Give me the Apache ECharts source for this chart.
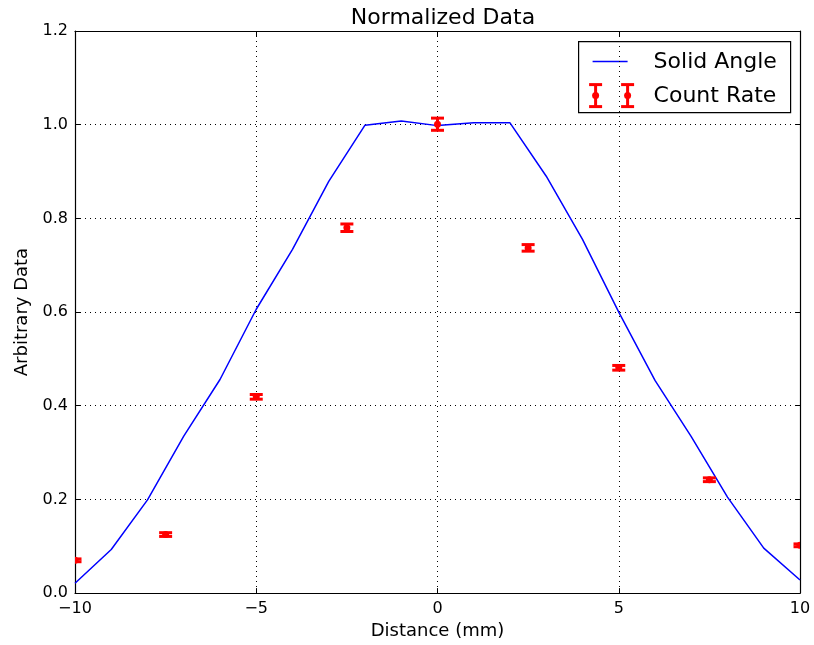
<!DOCTYPE html>
<html>
<head>
<meta charset="utf-8">
<script src="https://cdn.jsdelivr.net/npm/echarts@6/dist/echarts.min.js"></script>
<style>
html, body { margin: 0; padding: 0; background: #fff; }
#main { width: 814px; height: 645px; }
</style>
</head>
<body>
<div id="main"></div>
<script>
// solid angle curve
var angleX = [-10, -9, -8, -7, -6, -5, -4, -3, -2, -1, 0, 1, 2, 3, 4, 5, 6, 7, 8, 9, 10];
var angleY = [0.021, 0.093, 0.199, 0.335, 0.456, 0.606, 0.734, 0.879, 0.999, 1.008, 0.998, 1.004, 1.004, 0.890, 0.755, 0.600, 0.454, 0.334, 0.205, 0.096, 0.028];

// count rate with error
var rateX = [-10, -7.5, -5, -2.5, 0, 2.5, 5, 7.5, 10];
var rateY = [0.070, 0.125, 0.419, 0.780, 1.001, 0.737, 0.481, 0.242, 0.102];
var rateErr = [0.003, 0.004, 0.005, 0.008, 0.013, 0.007, 0.005, 0.004, 0.003];

var FONT = 'DejaVu Sans';

function buildLine(){
	var d = [];
	for (var i = 0; i < angleX.length; i++) d.push([angleX[i], angleY[i]]);
	return d;
}

function buildRate(){
	var d = [];
	for (var i = 0; i < rateX.length; i++) d.push([rateX[i], rateY[i], rateErr[i]]);
	return d;
}

function fmtMinus(v){
	return v < 0 ? '\u2212' + Math.abs(v) : '' + v;
}

/**
 * 误差棒绘制
 */
function renderErr(params, api){
	var x = api.value(0), y = api.value(1), e = api.value(2);
	var top = api.coord([x, y + e]);
	var bot = api.coord([x, y - e]);
	var mid = api.coord([x, y]);
	var hw = 6.5;
	var st = { stroke: '#ff0000', lineWidth: 3 };
	return {
		type: 'group',
		children: [
			{ type: 'line', shape: { x1: top[0], y1: top[1], x2: bot[0], y2: bot[1] }, style: st },
			{ type: 'line', shape: { x1: top[0] - hw, y1: top[1], x2: top[0] + hw, y2: top[1] }, style: st },
			{ type: 'line', shape: { x1: bot[0] - hw, y1: bot[1], x2: bot[0] + hw, y2: bot[1] }, style: st },
			{ type: 'circle', shape: { cx: mid[0], cy: mid[1], r: 3.5 }, style: { fill: '#ff0000' } }
		]
	};
}

var myChart = echarts.init(document.getElementById('main'));

var axisBase = {
	axisLine: { show: true, onZero: false, lineStyle: { color: '#000', width: 1.2 } },
	axisTick: { show: true, inside: true, length: 5, lineStyle: { color: '#000' } },
	axisLabel: { color: '#000', fontFamily: FONT, fontSize: 16 }
};

var option = {
	animation: false,
	title: {
		text: 'Normalized Data',
		left: 438, top: 2, textAlign: 'center',
		textStyle: { fontFamily: FONT, fontSize: 22, fontWeight: 'normal', color: '#000' }
	},
	grid: { left: 75, right: 14, top: 31, bottom: 50 },
	xAxis: [
		echarts.util.merge({
			type: 'value', min: -10, max: 10, interval: 5,
			name: 'Distance (mm)', nameLocation: 'middle', nameGap: 28,
			nameTextStyle: { fontFamily: FONT, fontSize: 18, color: '#000' },
			axisLabel: { formatter: fmtMinus, margin: 8 },
			splitLine: { show: true, lineStyle: { color: '#000', type: [1, 4], width: 1 } }
		}, axisBase, false),
		echarts.util.merge({
			type: 'value', min: -10, max: 10, interval: 5, position: 'top',
			axisLabel: { show: false }, splitLine: { show: false }
		}, axisBase, false)
	],
	yAxis: [
		echarts.util.merge({
			type: 'value', min: 0, max: 1.2, interval: 0.2,
			name: 'Arbitrary Data', nameLocation: 'middle', nameGap: 44,
			nameTextStyle: { fontFamily: FONT, fontSize: 18, color: '#000' },
			axisLabel: { formatter: function(v){ return v.toFixed(1); }, margin: 7 },
			splitLine: { show: true, lineStyle: { color: '#000', type: [1, 4], width: 1 } }
		}, axisBase, false),
		echarts.util.merge({
			type: 'value', min: 0, max: 1.2, interval: 0.2, position: 'right',
			axisLabel: { show: false }, splitLine: { show: false }
		}, axisBase, false)
	],
	series: [
		{
			name: 'Solid Angle',
			type: 'line',
			data: buildLine(),
			showSymbol: false,
			lineStyle: { color: '#0000ff', width: 1.5 },
			z: 3
		},
		{
			name: 'Count Rate',
			type: 'custom',
			data: buildRate(),
			renderItem: renderErr,
			clip: true,
			encode: { x: 0, y: 1 },
			z: 4
		}
	],
	graphic: [
		{
			type: 'group', left: 578, top: 41, z: 100,
			children: [
				{ type: 'rect', shape: { x: 0, y: 0, width: 212, height: 71 }, style: { fill: '#fff', stroke: '#000', lineWidth: 1.2 } },
				{ type: 'line', shape: { x1: 14, y1: 20, x2: 49, y2: 20 }, style: { stroke: '#0000ff', lineWidth: 1.5 } },
				{ type: 'text', x: 75, y: 21, style: { text: 'Solid Angle', fontFamily: FONT, fontSize: 22, fill: '#000', verticalAlign: 'middle' } },
				{ type: 'line', shape: { x1: 17, y1: 43, x2: 17, y2: 65 }, style: { stroke: '#ff0000', lineWidth: 3 } },
				{ type: 'line', shape: { x1: 10.5, y1: 43, x2: 23.5, y2: 43 }, style: { stroke: '#ff0000', lineWidth: 3 } },
				{ type: 'line', shape: { x1: 10.5, y1: 65, x2: 23.5, y2: 65 }, style: { stroke: '#ff0000', lineWidth: 3 } },
				{ type: 'circle', shape: { cx: 17, cy: 54, r: 3.5 }, style: { fill: '#ff0000' } },
				{ type: 'line', shape: { x1: 49, y1: 43, x2: 49, y2: 65 }, style: { stroke: '#ff0000', lineWidth: 3 } },
				{ type: 'line', shape: { x1: 42.5, y1: 43, x2: 55.5, y2: 43 }, style: { stroke: '#ff0000', lineWidth: 3 } },
				{ type: 'line', shape: { x1: 42.5, y1: 65, x2: 55.5, y2: 65 }, style: { stroke: '#ff0000', lineWidth: 3 } },
				{ type: 'circle', shape: { cx: 49, cy: 54, r: 3.5 }, style: { fill: '#ff0000' } },
				{ type: 'text', x: 75, y: 55, style: { text: 'Count Rate', fontFamily: FONT, fontSize: 22, fill: '#000', verticalAlign: 'middle' } }
			]
		}
	]
};

myChart.setOption(option);
</script>
</body>
</html>
